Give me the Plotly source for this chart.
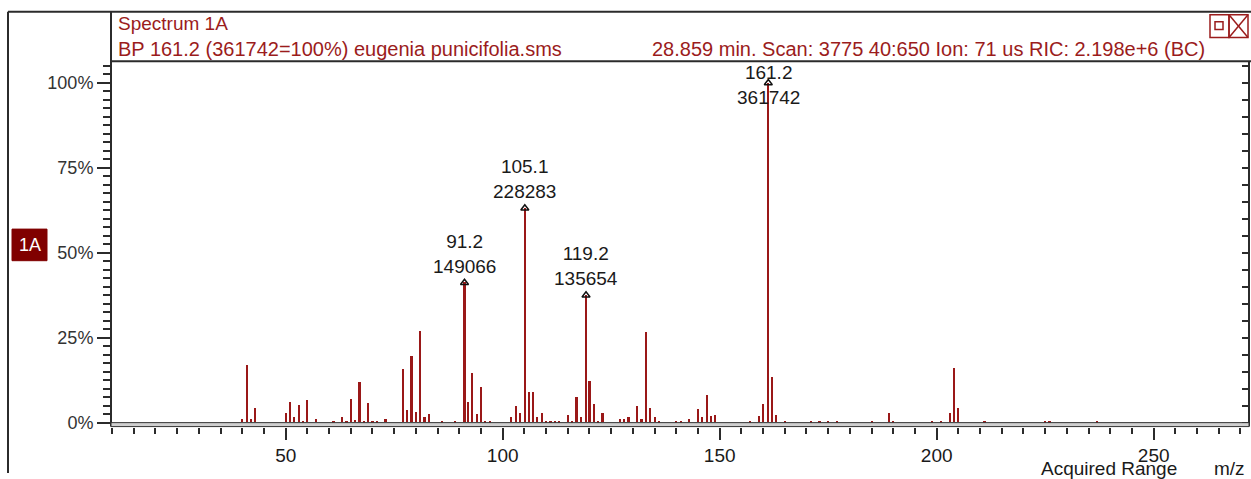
import plotly.graph_objects as go

# ---- spectrum data ----
BASE_PEAK_COUNTS = 361742

# annotated ions (m/z, absolute counts)
label_mz = [91.2, 105.1, 119.2, 161.2]
label_counts = [149066, 228283, 135654, 361742]

# remaining ions (m/z, relative abundance in %)
ion_mz = [40, 41, 42, 43, 50, 51, 52, 53, 54, 55, 57, 61, 63, 64, 65, 66, 67, 68, 69, 70,
          71, 73, 77, 78, 79, 80, 81, 82, 83, 86, 89, 92, 93, 94, 95, 96, 97, 102, 103,
          104, 106, 107, 108, 109, 110, 111, 112, 113, 115, 116, 117, 118, 120, 121, 122,
          123, 127, 128, 129, 131, 132, 133, 134, 135, 136, 140, 141, 143, 145, 146, 147,
          148, 149, 157, 159, 160, 162, 163, 165, 171, 173, 175, 177, 185, 189, 190, 199,
          201, 203, 204, 205, 211, 225, 226, 237]
ion_pct = [1.0, 16.9, 1.0, 4.2, 2.8, 6.0, 1.5, 5.1, 0.5, 6.5, 1.0, 0.5, 1.5, 0.5, 7.0, 0.6,
           11.9, 0.5, 5.6, 0.5, 0.5, 1.0, 15.7, 3.7, 19.7, 3.2, 27.0, 1.5, 2.4, 0.3, 0.5,
           6.0, 14.5, 2.4, 10.5, 0.5, 0.5, 1.5, 4.7, 2.8, 9.1, 9.1, 1.5, 2.8, 0.3, 0.3, 0.3,
           0.3, 2.3, 0.5, 7.4, 1.5, 12.3, 5.5, 0.5, 2.8, 1.0, 1.0, 1.5, 4.7, 1.0, 26.7, 4.2,
           1.5, 0.5, 0.3, 0.3, 1.0, 3.9, 1.5, 8.2, 2.0, 2.3, 0.5, 2.0, 5.5, 13.3, 2.3, 0.3,
           0.5, 0.5, 0.5, 0.5, 0.5, 2.8, 0.5, 0.5, 0.5, 2.8, 16.0, 4.2, 0.5, 0.5, 0.5, 0.5]

y_ticks = [0, 25, 50, 75, 100]
y_tick_text = ["0%", "25%", "50%", "75%", "100%"]
x_ticks = [50, 100, 150, 200, 250]

header_title = "Spectrum 1A"
header_left = "BP 161.2 (361742=100%) eugenia punicifolia.sms"
header_right = "28.859 min. Scan: 3775 40:650 Ion: 71 us RIC: 2.198e+6 (BC)"

# ---- derived values ----
label_pct = [c / BASE_PEAK_COUNTS * 100 for c in label_counts]
all_mz = ion_mz + label_mz
all_pct = ion_pct + label_pct

# ---- page geometry (pixels) ----
W, H = 1251, 479
PLOT_L, PLOT_R = 111, 1249
PLOT_T, PLOT_B = 62, 432
X_RANGE = [9.75, 271.96]
Y_RANGE = [-1.16, 106.4]
LABEL_CEILING = 91.0

DARK = "#2b2b2b"
RED = "#9a1818"
HEAD_RED = "#9b1c1c"
FONT = "Liberation Sans, Arial, sans-serif"


def px(x):
    return x / W


def py(y):
    return 1 - y / H


fig = go.Figure()

fig.add_trace(go.Bar(
    x=all_mz, y=all_pct, width=0.5,
    marker=dict(color=RED, line=dict(width=0)),
    hoverinfo="x+y", showlegend=False,
))

# small carets on the annotated ions
fig.add_trace(go.Scatter(
    x=label_mz, y=label_pct, mode="markers",
    marker=dict(symbol="triangle-up-open", size=7, color="#111",
                line=dict(width=1.5, color="#111")),
    hoverinfo="skip", showlegend=False,
))

# invisible trace to bring up the right-hand tick axis
fig.add_trace(go.Scatter(x=[X_RANGE[0]], y=[0], yaxis="y2", mode="markers",
                         marker=dict(opacity=0), hoverinfo="skip", showlegend=False))

annotations = []
for mz, cnt, pct in zip(label_mz, label_counts, label_pct):
    annotations.append(dict(
        x=mz, y=min(pct, LABEL_CEILING), xref="x", yref="y",
        text=f"{mz:.1f}<br>{cnt}", showarrow=False,
        xanchor="center", yanchor="bottom", yshift=4,
        font=dict(family=FONT, size=19, color="#1a1a1a"),
    ))

annotations += [
    dict(x=px(116), y=py(24), xref="paper", yref="paper", text=header_title,
         showarrow=False, xanchor="left", yanchor="middle",
         font=dict(family=FONT, size=19, color=HEAD_RED)),
    dict(x=px(116), y=py(50), xref="paper", yref="paper", text=header_left,
         showarrow=False, xanchor="left", yanchor="middle",
         font=dict(family=FONT, size=20, color=HEAD_RED)),
    dict(x=px(1207), y=py(50), xref="paper", yref="paper", text=header_right,
         showarrow=False, xanchor="right", yanchor="middle",
         font=dict(family=FONT, size=20, color=HEAD_RED)),
    dict(x=px(29.5), y=py(248), xref="paper", yref="paper", text="1A",
         showarrow=False, xanchor="center", yanchor="middle",
         font=dict(family=FONT, size=18, color="white")),
    dict(x=px(1039), y=py(474), xref="paper", yref="paper", text="Acquired Range",
         showarrow=False, xanchor="left", yanchor="middle",
         font=dict(family=FONT, size=19, color="#1a1a1a")),
    dict(x=px(1212), y=py(474), xref="paper", yref="paper", text="m/z",
         showarrow=False, xanchor="left", yanchor="middle",
         font=dict(family=FONT, size=19, color="#1a1a1a")),
]


def pline(x0, y0, x1, y1, color=DARK, width=2):
    return dict(type="line", xref="paper", yref="paper",
                x0=px(x0), y0=py(y0), x1=px(x1), y1=py(y1),
                line=dict(color=color, width=width))


def prect(x0, y0, x1, y1, fill="rgba(0,0,0,0)", color=DARK, width=1):
    return dict(type="rect", xref="paper", yref="paper",
                x0=px(x0), y0=py(y0), x1=px(x1), y1=py(y1),
                fillcolor=fill, line=dict(color=color, width=width))


shapes = [
    pline(8, 12, 8, 479),            # outer left frame
    pline(8, 12, 1251, 12),          # outer top frame
    pline(111, 12, 111, 432),        # header / y-axis divider
    pline(111, 62, 1251, 62),        # header bottom
    pline(1249, 62, 1249, 432),      # plot right border
    prect(111, 428, 1249, 432, fill="#cfcfcf", color="#333", width=1),  # baseline rail
    prect(12, 232, 47, 264, fill="#800000", color="#800000", width=1),  # pane tag
    prect(1210, 15, 1229, 38, color=HEAD_RED, width=1.5),
    prect(1215, 22, 1223, 30, color=HEAD_RED, width=1.5),
    prect(1229, 15, 1248, 38, color=HEAD_RED, width=1.5),
    pline(1229, 15, 1248, 38, color=HEAD_RED, width=1.5),
    pline(1229, 38, 1248, 15, color=HEAD_RED, width=1.5),
]

fig.update_layout(
    width=W, height=H,
    margin=dict(l=0, r=0, t=0, b=0),
    paper_bgcolor="white", plot_bgcolor="white",
    bargap=0,
    font=dict(family=FONT, size=19, color="#333"),
    xaxis=dict(
        domain=[px(PLOT_L), px(PLOT_R)], range=X_RANGE,
        tickmode="array", tickvals=x_ticks, ticktext=[str(t) for t in x_ticks],
        ticks="outside", ticklen=12, tickwidth=2, tickcolor=DARK,
        minor=dict(dtick=5, tick0=0, ticks="outside", ticklen=6, tickwidth=2, tickcolor=DARK),
        showgrid=False, zeroline=False, showline=False,
        tickfont=dict(family=FONT, size=19, color="#1a1a1a"),
        anchor="y",
    ),
    yaxis=dict(
        domain=[py(PLOT_B), py(PLOT_T)], range=Y_RANGE,
        tickmode="array", tickvals=y_ticks, ticktext=y_tick_text,
        ticks="outside", ticklen=13, tickwidth=2, tickcolor=DARK,
        minor=dict(dtick=2.5, tick0=0, ticks="outside", ticklen=7, tickwidth=2, tickcolor=DARK),
        showgrid=False, zeroline=False, showline=False,
        tickfont=dict(family=FONT, size=18, color="#333"),
        anchor="x",
    ),
    yaxis2=dict(
        overlaying="y", side="right", range=Y_RANGE, anchor="x",
        tickmode="linear", tick0=0, dtick=5,
        ticks="inside", ticklen=7, tickwidth=2, tickcolor=DARK,
        showticklabels=False, showgrid=False, zeroline=False, showline=False,
    ),
    annotations=annotations,
    shapes=shapes,
)

fig.write_html("out.html")
